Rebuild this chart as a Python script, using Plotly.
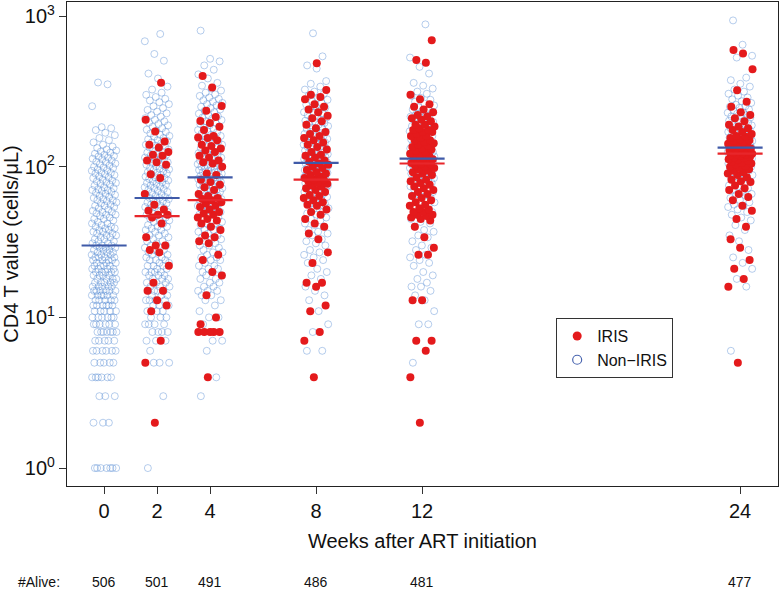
import plotly.graph_objects as go

# ---------------- data ----------------
weeks = [0, 2, 4, 8, 12, 24]
alive = [506, 501, 491, 486, 481, 477]

non_iris_w0 = [1,1,1,1,1,1,1,2,2,2,3,3,3,4,4,4,4,4,4,5,5,5,5,5,6,6,6,6,6,6,7,7,7,7,7,
               8,8,8,8,8,8,8,9,9,9,9,9,9,10,10,10,10,10,10,11,11,11,11,11,12,12,12,12,12,12,
               13,13,13,13,13,14,14,14,14,14,14,15,15,15,15,15,15,16,16,16,16,16,17,17,17,17,17,
               18,18,18,18,19,19,19,19,20,20,20,20,20,21,21,21,21,22,22,22,22,23,23,23,
               24,24,24,24,25,25,25,25,26,26,26,27,27,27,28,28,28,29,29,29,30,30,30,
               31,31,32,32,33,33,34,34,35,35,36,36,37,37,38,38,39,39,40,40,41,42,42,43,44,45,45,
               46,47,48,48,49,50,50,51,52,53,54,55,55,56,57,58,59,60,60,61,62,63,64,65,66,67,68,
               69,70,70,71,72,73,75,76,77,78,79,80,81,82,84,85,86,88,89,90,91,92,94,95,96,98,99,
               100,102,104,105,107,108,110,112,113,115,117,118,120,122,124,126,128,130,133,136,
               140,145,150,155,162,168,175,180,183,252,352,362]
non_iris_w2 = [1,3,5,5,5,6,7,7,7,8,8,8,8,9,9,9,9,10,10,10,11,11,11,12,12,12,13,13,13,13,
               14,14,14,15,15,15,15,16,16,16,17,17,17,18,18,18,19,19,19,20,20,20,20,21,21,
               22,22,22,23,23,24,24,24,25,25,26,26,27,27,28,28,29,29,30,30,31,32,32,33,34,35,35,
               36,37,38,38,39,40,40,41,42,43,44,44,45,46,47,48,48,49,50,51,52,53,54,54,55,56,57,
               58,58,59,60,61,62,62,63,64,65,66,67,68,69,70,71,72,73,74,75,76,77,78,79,80,81,82,
               83,84,85,86,88,89,90,91,92,93,95,96,97,98,100,101,103,104,106,107,109,110,112,114,
               115,117,119,120,122,124,126,128,130,132,134,136,138,140,143,145,148,150,152,155,158,
               160,163,166,170,173,176,180,184,188,192,196,200,205,210,215,220,226,232,238,245,
               252,260,268,275,282,290,300,310,325,340,385,415,505,560,680,760]
non_iris_w4 = [3,4,6,7,7,9,10,10,11,12,13,13,14,14,15,15,15,16,16,17,17,18,18,19,19,20,20,
               21,21,22,22,23,24,24,25,25,26,27,27,28,29,30,30,31,32,33,33,34,35,36,37,38,38,39,
               40,41,42,42,43,44,45,46,47,48,49,50,50,51,52,53,54,55,55,56,57,58,59,60,60,61,62,
               63,64,65,65,66,67,68,69,70,70,71,72,73,74,75,75,76,77,78,79,80,80,81,82,83,84,85,85,
               86,87,88,89,90,91,92,93,94,95,96,97,98,99,100,101,102,104,105,106,108,109,110,112,
               113,115,116,118,120,121,123,125,127,129,131,133,135,137,140,142,145,147,150,152,155,
               158,160,163,166,169,172,175,178,182,185,189,192,196,200,204,208,212,216,220,225,230,
               235,240,245,250,255,260,265,270,276,282,288,295,302,310,320,330,345,360,385,410,440,
               470,500,520,800]
non_iris_w8 = [6,6,8,9,11,13,14,15,16,18,19,20,21,23,24,25,26,27,28,30,31,32,33,35,36,37,38,
               40,41,42,44,45,46,48,49,50,52,53,55,56,57,58,60,61,62,63,64,65,66,67,68,69,70,71,
               72,72,73,74,75,75,76,77,78,78,79,80,81,82,82,83,84,85,85,86,87,88,88,89,90,91,92,92,
               93,94,95,95,96,97,98,98,99,100,101,102,102,103,104,105,105,106,107,108,109,110,111,
               112,113,114,116,117,118,119,120,121,122,124,125,126,128,130,131,132,134,136,137,138,
               140,142,144,145,146,148,150,152,153,156,159,160,162,165,168,170,171,174,178,180,182,
               186,190,194,195,198,202,206,210,212,215,220,225,228,230,235,240,246,252,258,264,270,
               278,286,295,305,315,325,340,355,370,448,470,540,768]
non_iris_w12 = [5,9,9,11,13,14,15,16,16,17,18,19,20,22,23,24,25,26,28,29,30,32,34,35,37,38,40,
                42,43,45,47,48,50,52,54,55,57,58,59,60,62,63,64,65,66,68,70,71,72,73,74,76,77,78,
                79,80,82,83,84,85,86,88,89,90,91,92,93,94,95,96,97,98,99,100,101,102,103,104,105,
                106,107,108,109,110,110,111,112,112,113,114,115,116,117,118,118,119,120,121,122,124,
                125,126,127,128,130,132,133,134,135,137,139,141,142,143,145,147,150,151,152,155,157,
                160,163,165,166,169,172,175,178,180,182,186,190,194,198,200,203,208,213,215,218,224,
                230,236,240,242,248,255,262,270,278,286,295,305,315,330,345,360,415,460,530,880]
non_iris_w24 = [6,16,18,21,23,25,28,32,35,38,41,44,46,48,50,52,54,55,56,58,60,62,64,65,66,68,
                70,72,74,75,76,78,80,82,84,85,86,88,90,92,94,95,96,98,99,100,101,102,103,104,105,
                106,107,108,109,110,111,112,113,114,115,116,117,118,119,120,121,122,123,124,125,126,
                127,128,129,130,131,132,133,134,135,136,137,138,139,140,141,142,143,144,145,146,148,
                150,151,152,154,156,157,158,160,162,163,165,168,170,171,173,176,179,180,182,185,188,
                190,192,196,200,202,204,208,212,215,216,220,225,228,230,235,240,246,250,252,258,265,
                272,280,288,296,305,315,325,340,355,375,390,530,545,645,935]

iris_w0 = []
iris_w2 = [2,5,7,11,12,13,15,15,17,22,27,28,30,30,34,42,46,48,48,51,52,56,66,84,89,103,107,
           110,118,120,125,134,140,147,171,205,360]
iris_w4 = [4,8,8,8,8,8,9,10,14,19,20,24,26,31,32,34,35,38,40,42,44,45,46,48,49,50,52,54,55,
           57,58,60,61,62,64,66,70,73,76,79,82,88,90,100,105,107,110,115,118,125,128,132,137,
           140,150,155,156,160,175,184,195,201,214,235,253,335,400]
iris_w8 = [4,7,8,11,12,16,17,17,23,27,33,36,40,42,45,48,50,52,55,56,58,60,62,64,65,68,70,72,
           74,75,77,78,80,82,82,84,86,88,90,92,95,98,100,103,105,108,110,115,118,120,125,130,
           135,140,145,150,155,160,165,170,180,190,200,210,218,230,240,250,260,280,290,300,323,486]
iris_w12 = [2,4,6,7,7,13,13,26,26,29,34,40,44,45,46,47,48,48,50,50,52,53,55,56,58,60,62,64,66,
            68,70,72,74,76,78,80,82,85,88,90,92,94,96,98,100,102,104,105,106,108,110,112,114,116,
            118,120,122,125,128,130,132,135,138,140,143,146,150,150,155,160,160,165,170,170,175,
            175,180,185,190,190,200,205,210,215,220,230,240,250,260,280,300,490,510,690]
iris_w24 = [5,16,18,21,24,29,33,40,45,51,55,60,63,66,70,72,75,79,80,82,85,88,90,92,94,96,98,
            100,101,103,105,106,108,110,111,112,114,115,116,118,119,120,121,122,123,124,125,126,
            128,129,130,132,134,135,137,140,142,145,148,150,152,155,158,160,165,170,175,180,185,
            190,200,210,220,230,250,270,322,444,565,596]

non_iris = [non_iris_w0, non_iris_w2, non_iris_w4, non_iris_w8, non_iris_w12, non_iris_w24]
iris = [iris_w0, iris_w2, iris_w4, iris_w8, iris_w12, iris_w24]

median_non_iris = [30, 62, 85, 106, 113, 134]
median_iris = [None, 47, 60, 82, 105, 122]

y_tick_vals = [1, 10, 100, 1000]
y_tick_text = ["10<sup>0</sup>", "10<sup>1</sup>", "10<sup>2</sup>", "10<sup>3</sup>"]

# ---------------- styling / layout helpers ----------------
FONT = "Liberation Sans, Arial, Helvetica, sans-serif"
JIT = 0.47       # half-width of the jitter band (weeks)
HALF = 0.85      # half-width of the median bars (weeks)
GOLD = 0.6180339887


def jitter_x(week, n, phase):
    return [week + (((i * GOLD + phase) % 1.0) - 0.5) * 2 * JIT for i in range(n)]


fig = go.Figure()

# non-IRIS open circles
nx, ny = [], []
for w, vals in zip(weeks, non_iris):
    nx += jitter_x(w, len(vals), 0.13)
    ny += vals
fig.add_trace(go.Scatter(
    x=nx, y=ny, mode="markers", showlegend=False, hoverinfo="skip",
    marker=dict(symbol="circle-open", size=7, color="rgba(80,135,210,0.42)",
                line=dict(width=1))))

# IRIS filled red dots
ix, iy = [], []
for w, vals in zip(weeks, iris):
    ix += jitter_x(w, len(vals), 0.41)
    iy += vals
fig.add_trace(go.Scatter(
    x=ix, y=iy, mode="markers", showlegend=False, hoverinfo="skip",
    marker=dict(symbol="circle", size=8, color="#e41a1c", line=dict(width=0))))

# median bars
def bars(meds):
    xs, ys = [], []
    for w, m in zip(weeks, meds):
        if m is None:
            continue
        xs += [w - HALF, w + HALF, None]
        ys += [m, m, None]
    return xs, ys

bx, by = bars(median_non_iris)
fig.add_trace(go.Scatter(x=bx, y=by, mode="lines", showlegend=False, hoverinfo="skip",
                         line=dict(color="#3f5aa8", width=2.2)))
rx, ry = bars(median_iris)
fig.add_trace(go.Scatter(x=rx, y=ry, mode="lines", showlegend=False, hoverinfo="skip",
                         line=dict(color="#e8262b", width=2.2)))

# legend entries
fig.add_trace(go.Scatter(x=[None], y=[None], mode="markers", name="IRIS",
                         marker=dict(symbol="circle", size=9, color="#e41a1c")))
fig.add_trace(go.Scatter(x=[None], y=[None], mode="markers", name="Non\u2212IRIS",
                         marker=dict(symbol="circle-open", size=9, color="#4a66b0",
                                     line=dict(width=1.2))))

# #Alive row
annotations = [dict(text="#Alive:", x=0.0, xref="paper", xanchor="right", xshift=-5,
                    y=-0.198, yref="paper", yanchor="middle", showarrow=False,
                    font=dict(size=14, color="#111", family=FONT))]
for w, a in zip(weeks, alive):
    annotations.append(dict(text=str(a), x=w, xref="x", y=-0.198, yref="paper",
                            yanchor="middle", showarrow=False,
                            font=dict(size=14, color="#111", family=FONT)))

fig.update_layout(
    width=780, height=589,
    margin=dict(l=67, r=2, t=2, b=103, autoexpand=False),
    paper_bgcolor="white", plot_bgcolor="white",
    font=dict(family=FONT, size=20, color="#111"),
    showlegend=True,
    legend=dict(x=0.688, y=0.347, xanchor="left", yanchor="top",
                bgcolor="white", bordercolor="#333", borderwidth=1,
                font=dict(size=16, family=FONT, color="#111"),
                itemwidth=30, tracegroupgap=0),
    annotations=annotations,
)
fig.update_xaxes(
    automargin=False,
    range=[-1.4, 25.43], tickmode="array", tickvals=weeks, ticktext=[str(w) for w in weeks],
    ticks="outside", ticklen=7, tickwidth=1.2, tickcolor="#333",
    showline=True, mirror=True, linecolor="#222", linewidth=1.3,
    showgrid=False, zeroline=False, tickfont=dict(size=20),
    title=dict(text="Weeks after ART initiation", font=dict(size=20), standoff=12),
)
fig.update_yaxes(
    automargin=False,
    type="log", range=[-0.119, 3.093], tickmode="array",
    tickvals=y_tick_vals, ticktext=y_tick_text,
    ticks="outside", ticklen=7, tickwidth=1.2, tickcolor="#333",
    showline=True, mirror=True, linecolor="#222", linewidth=1.3,
    showgrid=False, zeroline=False, tickfont=dict(size=20),
    title=dict(text="CD4 T value (cells/\u03bcL)", font=dict(size=20), standoff=6),
)

fig.write_html("out.html",
               config={"displayModeBar": False},
               post_script="document.body.style.margin='0';document.body.style.overflow='hidden';")
